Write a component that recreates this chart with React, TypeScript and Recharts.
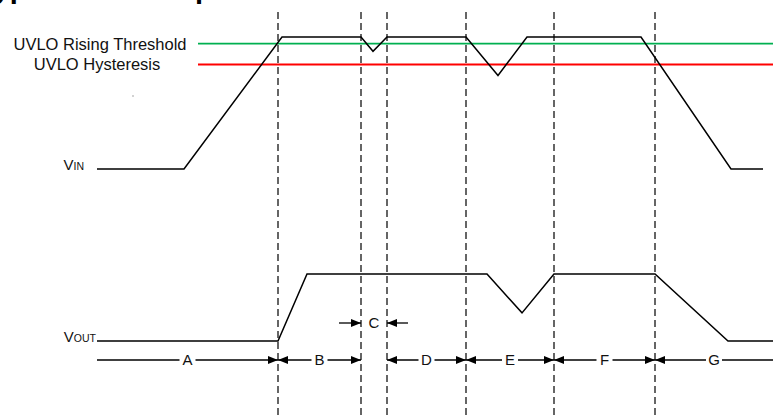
import { LineChart, Line, XAxis, YAxis, ReferenceLine, ReferenceDot } from "recharts";

// time in arbitrary ms, voltages in V
const vinTime = [-0.3, 8.4, 18.2, 26.1, 27.3, 28.7, 36.6, 39.8, 42.7, 54.1, 63.1, 66.3];
const vinVolts = [0, 0, 12, 12, 10.7, 12, 12, 8.5, 12, 12, 0, 0];
const voutTime = [-0.3, 17.8, 20.7, 38.7, 42.2, 45.4, 55.5, 62.8, 67.3];
const voutVolts = [0, 0, 5, 5, 2.1, 5, 5, 0, 0];

const uvloRising = 11.4;
const uvloHysteresis = 9.5;

const edgeTimes = [17.8, 26.1, 28.7, 36.6, 45.4, 55.5];
const intervalNames = ["A", "B", "D", "E", "F", "G"];
const intervalStart = [-0.3, 17.8, 28.7, 36.6, 45.4, 55.5];
const intervalEnd = [17.8, 26.1, 36.6, 45.4, 55.5, 67.3];
const cPointerFrom = [23.9, 30.8];
const cPointerTo = [26.1, 28.7];

// layout
const W = 773;
const H = 415;
const PX_PER_MS = 10;
const X_ORIGIN = 100;
const VIN_HIGH = 12;
const VIN_BASE_PX = 169;
const VIN_TOP_PX = 37;
const VOUT_HIGH = 5;
const VOUT_BASE_PX = 341;
const VOUT_TOP_PX = 274;
const FONT = "Arial, 'Liberation Sans', sans-serif";

const xDomain: [number, number] = [-X_ORIGIN / PX_PER_MS, (W - X_ORIGIN) / PX_PER_MS];
const tAt = (px: number) => (px - X_ORIGIN) / PX_PER_MS;

const scaleFor = (base: number, top: number, high: number) => (base - top) / high;
const yDomain = (base: number, top: number, high: number): [number, number] => {
  const k = scaleFor(base, top, high);
  return [(base - H) / k, base / k];
};
const vinAt = (px: number) => (VIN_BASE_PX - px) / scaleFor(VIN_BASE_PX, VIN_TOP_PX, VIN_HIGH);
const voutAt = (px: number) => (VOUT_BASE_PX - px) / scaleFor(VOUT_BASE_PX, VOUT_TOP_PX, VOUT_HIGH);

const vinData = vinTime.map((t, i) => ({ t, v: vinVolts[i] }));
const voutData = voutTime.map((t, i) => ({ t, v: voutVolts[i] }));

const intervalRow = voutAt(360);
const cRow = voutAt(323);

const head = (x: number, y: number, dir: number) =>
  `${x},${y} ${x - dir * 10},${y - 4} ${x - dir * 10},${y + 4}`;

const renderInterval = (p: any, name: string, headStart: boolean, headEnd: boolean) => {
  const { x1, y1, x2 } = p;
  const mid = (x1 + x2) / 2;
  return (
    <g>
      <line x1={x1} y1={y1} x2={x2} y2={y1} stroke="#000" strokeWidth={1.3} />
      {headStart && <polygon points={head(x1, y1, -1)} fill="#000" />}
      {headEnd && <polygon points={head(x2, y1, 1)} fill="#000" />}
      <rect x={mid - 8} y={y1 - 8} width={16} height={16} fill="#fff" />
      <text x={mid} y={y1} dy="0.36em" textAnchor="middle" fontSize={15} fontFamily={FONT} fill="#111">
        {name}
      </text>
    </g>
  );
};

const renderPointer = (p: any) => {
  const { x1, y1, x2 } = p;
  const dir = x2 > x1 ? 1 : -1;
  return (
    <g>
      <line x1={x1} y1={y1} x2={x2} y2={y1} stroke="#000" strokeWidth={1.3} />
      <polygon points={head(x2, y1, dir)} fill="#000" />
    </g>
  );
};

const renderThreshold = (p: any, color: string, label: string, labelX: number) => (
  <g>
    <line x1={p.x1} y1={p.y1} x2={p.x2} y2={p.y2} stroke={color} strokeWidth={1.8} />
    <text x={labelX} y={p.y1} dy="0.36em" textAnchor="middle" fontSize={16.5} fontFamily={FONT} fill="#111">
      {label}
    </text>
  </g>
);

const renderSignalName = (p: any, main: string, sub: string, gap: number) => (
  <text x={p.x1 - gap} y={p.y1 + 1} textAnchor="end" fontFamily={FONT} fill="#111">
    <tspan fontSize={15}>{main}</tspan>
    <tspan fontSize={10.5}>{sub}</tspan>
  </text>
);

export default function App() {
  return (
    <div style={{ position: "absolute", left: 0, top: 0, width: W, height: H, background: "#fff", overflow: "hidden" }}>
      <div
        style={{
          position: "absolute",
          left: -22,
          top: -26,
          fontFamily: FONT,
          fontWeight: "bold",
          fontSize: 29,
          lineHeight: 1,
          whiteSpace: "nowrap",
          color: "#000",
        }}
      >
        Typical UVLO Operation
      </div>
      <LineChart width={W} height={H} margin={{ top: 0, right: 0, bottom: 0, left: 0 }}>
        <XAxis type="number" dataKey="t" domain={xDomain} allowDataOverflow hide />
        <YAxis yAxisId="vin" type="number" domain={yDomain(VIN_BASE_PX, VIN_TOP_PX, VIN_HIGH)} allowDataOverflow hide />
        <YAxis yAxisId="vout" type="number" domain={yDomain(VOUT_BASE_PX, VOUT_TOP_PX, VOUT_HIGH)} allowDataOverflow hide />

        <ReferenceLine
          yAxisId="vin"
          ifOverflow="visible"
          segment={[{ x: tAt(198), y: uvloRising }, { x: xDomain[1], y: uvloRising }]}
          shape={(p: any) => renderThreshold(p, "#00b050", "UVLO Rising Threshold", 100)}
        />
        <ReferenceLine
          yAxisId="vin"
          ifOverflow="visible"
          segment={[{ x: tAt(198), y: uvloHysteresis }, { x: xDomain[1], y: uvloHysteresis }]}
          shape={(p: any) => renderThreshold(p, "#ff0000", "UVLO Hysteresis", 97)}
        />

        {edgeTimes.map((t) => (
          <ReferenceLine
            key={`edge-${t}`}
            yAxisId="vin"
            ifOverflow="visible"
            segment={[{ x: t, y: vinAt(12) }, { x: t, y: vinAt(H) }]}
            stroke="#333"
            strokeWidth={1.5}
            strokeDasharray="7 4"
          />
        ))}

        <Line yAxisId="vin" data={vinData} dataKey="v" type="linear" stroke="#000" strokeWidth={1.5} dot={false} activeDot={false} isAnimationActive={false} />
        <Line yAxisId="vout" data={voutData} dataKey="v" type="linear" stroke="#000" strokeWidth={1.5} dot={false} activeDot={false} isAnimationActive={false} />

        {intervalNames.map((name, i) => (
          <ReferenceLine
            key={`iv-${name}`}
            yAxisId="vout"
            ifOverflow="visible"
            segment={[{ x: intervalStart[i], y: intervalRow }, { x: intervalEnd[i], y: intervalRow }]}
            shape={(p: any) =>
              renderInterval(p, name, edgeTimes.includes(intervalStart[i]), edgeTimes.includes(intervalEnd[i]))
            }
          />
        ))}

        {cPointerFrom.map((from, i) => (
          <ReferenceLine
            key={`c-${i}`}
            yAxisId="vout"
            ifOverflow="visible"
            segment={[{ x: from, y: cRow }, { x: cPointerTo[i], y: cRow }]}
            shape={renderPointer}
          />
        ))}
        <ReferenceLine
          yAxisId="vout"
          ifOverflow="visible"
          segment={[{ x: cPointerTo[0], y: cRow }, { x: cPointerTo[1], y: cRow }]}
          shape={(p: any) => (
            <text x={(p.x1 + p.x2) / 2} y={p.y1} dy="0.36em" textAnchor="middle" fontSize={15} fontFamily={FONT} fill="#111">
              C
            </text>
          )}
        />

        <ReferenceLine
          yAxisId="vin"
          ifOverflow="visible"
          segment={[{ x: vinTime[0], y: vinVolts[0] }, { x: vinTime[1], y: vinVolts[1] }]}
          shape={(p: any) => renderSignalName(p, "V", "IN", 13)}
        />
        <ReferenceLine
          yAxisId="vout"
          ifOverflow="visible"
          segment={[{ x: voutTime[0], y: voutVolts[0] }, { x: voutTime[1], y: voutVolts[1] }]}
          shape={(p: any) => renderSignalName(p, "V", "OUT", 1)}
        />
        <ReferenceDot
          yAxisId="vin"
          ifOverflow="visible"
          x={tAt(133)}
          y={vinAt(96)}
          r={0.8}
          fill="#999"
          stroke="none"
        />
      </LineChart>
    </div>
  );
}
